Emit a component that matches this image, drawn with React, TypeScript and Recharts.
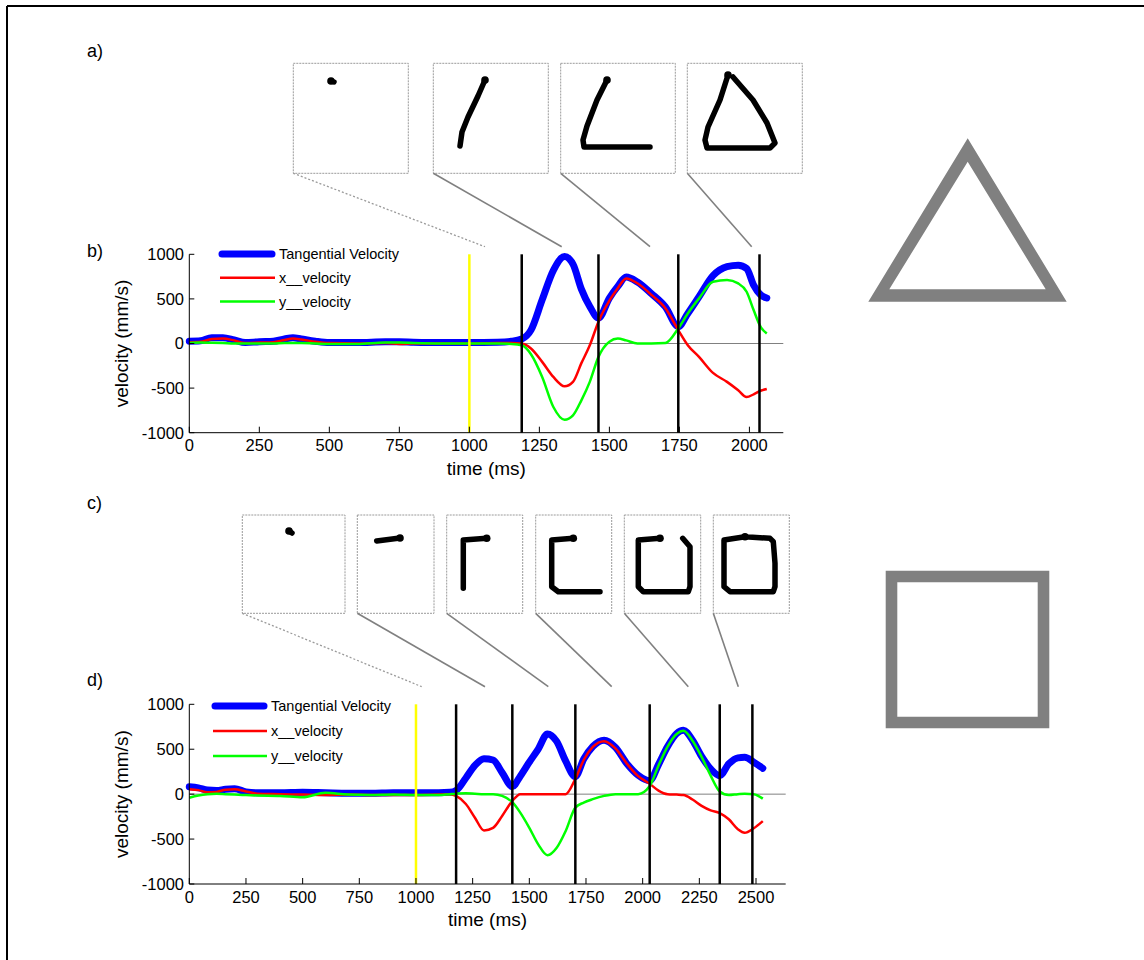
import { LineChart, Line, XAxis, YAxis, ReferenceLine, Legend } from 'recharts';

const FONT = '"Liberation Sans", Arial, Helvetica, sans-serif';

const SERIES_NAMES = ['Tangential Velocity', 'x__velocity', 'y__velocity'];
const SERIES_COLORS = ['#0000ff', '#ff0000', '#00ff00'];
const Y_TICKS = [-1000, -500, 0, 500, 1000];
const ONSET_MS = 1000;

// b) triangle trial
const B_TIME = [0, 40, 80, 120, 160, 200, 250, 300, 340, 370, 400, 450, 500, 600, 700, 750, 800, 900, 1000, 1100, 1150, 1187, 1220, 1260, 1300, 1340, 1370, 1400, 1430, 1461, 1500, 1530, 1560, 1600, 1650, 1700, 1746, 1780, 1820, 1870, 1920, 1960, 1990, 2015, 2040, 2062];
const B_TAN = [25, 30, 65, 65, 40, 10, 20, 25, 50, 65, 50, 25, 10, 10, 20, 20, 15, 10, 10, 15, 25, 50, 150, 490, 820, 975, 890, 610, 415, 285, 510, 640, 745, 690, 560, 410, 190, 337, 524, 760, 861, 878, 840, 655, 545, 510];
const B_XVEL = [15, 20, 50, 55, 35, 5, 10, 15, 40, 55, 45, 20, 5, 0, 5, -5, 0, 0, 0, 5, 5, 0, -56, -206, -375, -480, -430, -220, -20, 245, 480, 620, 730, 675, 545, 395, 150, -19, -150, -330, -430, -524, -600, -570, -530, -510];
const B_YVEL = [5, 10, 8, 5, 0, 0, 0, 0, 5, 5, 5, 0, -5, -5, 10, 10, 5, 0, 0, 0, -5, -20, -120, -375, -712, -854, -805, -637, -430, -150, 20, 55, 35, 0, 0, 5, 169, 337, 506, 693, 712, 674, 580, 375, 187, 112];
const B_SEGMENTS = [1187, 1461, 1746, 2036];
const B_X_TICKS = [0, 250, 500, 750, 1000, 1250, 1500, 1750, 2000];

// d) square trial
const D_TIME = [0, 40, 80, 120, 160, 200, 250, 300, 400, 500, 600, 700, 800, 900, 1000, 1100, 1150, 1177, 1220, 1260, 1300, 1340, 1380, 1425, 1460, 1500, 1540, 1580, 1620, 1660, 1703, 1740, 1780, 1830, 1880, 1930, 1980, 2031, 2070, 2110, 2150, 2180, 2220, 2260, 2300, 2340, 2380, 2420, 2450, 2490, 2530];
const D_TAN = [82, 70, 45, 40, 55, 60, 25, 15, 15, 20, 15, 10, 10, 15, 15, 15, 20, 40, 180, 320, 395, 380, 240, 85, 200, 356, 505, 670, 590, 370, 195, 390, 530, 600, 520, 340, 210, 150, 330, 530, 675, 712, 600, 420, 280, 206, 337, 404, 410, 356, 288];
const D_XVEL = [55, 45, 20, 25, 50, 55, 30, 5, 0, -5, -10, -5, -10, -10, -10, -5, 0, -20, -110, -262, -404, -375, -243, -75, 0, 0, 0, 0, 0, 0, 170, 380, 525, 590, 510, 340, 200, 115, 40, 0, -5, -10, -60, -130, -180, -210, -280, -390, -430, -380, -300];
const D_YVEL = [-40, -15, 0, 5, 0, -5, -10, -15, -20, -35, 15, -5, -10, -5, -10, -10, 0, 5, 10, 5, 0, 0, -20, -90, -206, -375, -562, -680, -600, -412, -150, -94, -56, -19, 0, 0, 0, 90, 320, 530, 670, 705, 595, 415, 206, 30, -10, 0, 5, 0, -50];
const D_SEGMENTS = [1177, 1425, 1703, 2031, 2340, 2484];
const D_X_TICKS = [0, 250, 500, 750, 1000, 1250, 1500, 1750, 2000, 2250, 2500];

// handwriting snapshots (pen traces inside the inset boxes)
const A_BOXES = [[293.3, 408.3], [433.3, 548.3], [560.7, 675.3], [687.3, 802.3]];
const A_TRACES = [
  [[331, 81], [334, 82]],
  [[485, 80], [478, 96], [468, 117], [462, 132], [460, 146]],
  [[607, 80], [597, 100], [587, 126], [583, 140], [584, 147], [650, 147]],
  [[728, 75], [720, 100], [708, 127], [705, 140], [707, 148], [770, 148], [775, 143], [767, 123], [753, 100], [733, 77]],
];
const A_LINKS = [[485, 246.7], [561.7, 246.7], [650, 246.7], [751.7, 246.7]];

const C_BOXES = [[242.3, 345], [357.3, 434], [446.7, 522.7], [535.7, 611.7], [624.3, 700.7], [713.3, 789.3]];
const C_TRACES = [
  [[289, 531], [292, 533]],
  [[400, 538], [376.7, 541]],
  [[486.7, 538.3], [463.3, 540], [463.3, 588.3]],
  [[573.3, 538.3], [551.7, 540], [551.7, 586.7], [558.3, 591.7], [600, 591.7]],
  [[660, 538.3], [638.3, 540], [638.3, 586.7], [643.3, 591.7], [688.3, 591.7], [690, 586.7], [690, 546.7], [682.7, 538.3]],
  [[745, 536.7], [724, 540], [724, 586.7], [730, 591.7], [773.3, 591.7], [775, 586.7], [775, 563.3], [773.3, 541.7], [770, 538.3], [745, 536.7]],
];
const C_LINKS = [[421.7, 686.7], [485, 686.7], [548.3, 686.7], [611.7, 686.7], [688.3, 686.7], [738.3, 686.7]];

function buildRows(time: number[], tan: number[], xv: number[], yv: number[]) {
  return time.map((t, i) => ({ t, tan: tan[i], xv: xv[i], yv: yv[i] }));
}

const B_ROWS = buildRows(B_TIME, B_TAN, B_XVEL, B_YVEL);
const D_ROWS = buildRows(D_TIME, D_TAN, D_XVEL, D_YVEL);

function makeLegend(rowGap: number, sampleLen: number) {
  return (props: any) => {
    const payload = props.payload || [];
    return (
      <svg width={230} height={90} style={{ overflow: 'visible', display: 'block' }}>
        {payload.map((entry: any, i: number) => {
          const y = 12 + i * rowGap;
          const thick = i === 0;
          return (
            <g key={entry.value}>
              <line
                x1={thick ? 8 : 6}
                x2={thick ? sampleLen + 3 : sampleLen + 6}
                y1={y}
                y2={y}
                stroke={entry.color}
                strokeWidth={thick ? 7 : 2.5}
                strokeLinecap={thick ? 'round' : 'butt'}
              />
              <text x={sampleLen + 10} y={y} dominantBaseline="central" fontSize={14.5} fontFamily={FONT} fill="#000">
                {entry.value}
              </text>
            </g>
          );
        })}
      </svg>
    );
  };
}

interface PanelProps {
  rows: { t: number; tan: number; xv: number; yv: number }[];
  segments: number[];
  xTicks: number[];
  xMax: number;
  top: number;
  height: number;
  margin: { top: number; right: number; bottom: number; left: number };
  legendPos: { left: number; top: number };
  rowGap: number;
  sampleLen: number;
}

function VelocityPanel({ rows, segments, xTicks, xMax, top, height, margin, legendPos, rowGap, sampleLen }: PanelProps) {
  const tickStyle = { fill: '#000', fontSize: 16.5, fontFamily: FONT };
  const labelStyle = { fill: '#000', fontSize: 19, fontFamily: FONT, textAnchor: 'middle' as const };
  return (
    <div style={{ position: 'absolute', left: 100, top, width: 700, height }}>
      <LineChart width={700} height={height} data={rows} margin={margin}>
        <XAxis
          dataKey="t"
          type="number"
          domain={[0, xMax]}
          ticks={xTicks}
          height={45}
          tick={tickStyle}
          tickSize={-6}
          tickMargin={13}
          axisLine={{ stroke: '#000' }}
          tickLine={{ stroke: '#000' }}
          label={{ value: 'time (ms)', position: 'insideBottom', offset: 3, style: labelStyle }}
        />
        <YAxis
          type="number"
          domain={[-1000, 1000]}
          ticks={Y_TICKS}
          width={89.3}
          tick={tickStyle}
          tickSize={-5}
          tickMargin={10.3}
          axisLine={{ stroke: '#000' }}
          tickLine={{ stroke: '#000' }}
          label={{ value: 'velocity (mm/s)', angle: -90, position: 'insideLeft', offset: 21, style: labelStyle }}
        />
        <ReferenceLine y={0} stroke="#808080" strokeWidth={1} />
        <Line
          type="monotone"
          dataKey="tan"
          name={SERIES_NAMES[0]}
          stroke={SERIES_COLORS[0]}
          strokeWidth={7}
          strokeLinecap="round"
          strokeLinejoin="round"
          dot={false}
          isAnimationActive={false}
        />
        <Line type="monotone" dataKey="xv" name={SERIES_NAMES[1]} stroke={SERIES_COLORS[1]} strokeWidth={2.5} dot={false} isAnimationActive={false} />
        <Line type="monotone" dataKey="yv" name={SERIES_NAMES[2]} stroke={SERIES_COLORS[2]} strokeWidth={2.5} dot={false} isAnimationActive={false} />
        <ReferenceLine x={ONSET_MS} stroke="#ffff00" strokeWidth={2.5} />
        {segments.map((s) => (
          <ReferenceLine key={s} x={s} stroke="#000" strokeWidth={2.5} />
        ))}
        <Legend
          layout="vertical"
          align="center"
          verticalAlign="middle"
          content={makeLegend(rowGap, sampleLen)}
          wrapperStyle={{ left: legendPos.left, top: legendPos.top, width: 230 }}
        />
      </LineChart>
    </div>
  );
}

function Snapshots({ boxes, top, bottom, traces, links }: { boxes: number[][]; top: number; bottom: number; traces: number[][][]; links: number[][] }) {
  return (
    <g>
      {boxes.map(([x0, x1], i) => (
        <g key={i}>
          <rect x={x0} y={top} width={x1 - x0} height={bottom - top} fill="#fff" stroke="#9a9a9a" strokeWidth={1} strokeDasharray="2 1" />
          <polyline
            points={traces[i].map((p) => p.join(',')).join(' ')}
            fill="none"
            stroke="#000"
            strokeWidth={5.5}
            strokeLinecap="round"
            strokeLinejoin="round"
          />
          <circle cx={traces[i][0][0]} cy={traces[i][0][1]} r={3.8} fill="#000" />
          <line
            x1={x0}
            y1={bottom}
            x2={links[i][0]}
            y2={links[i][1]}
            stroke={i === 0 ? '#9a9a9a' : '#808080'}
            strokeWidth={i === 0 ? 1.3 : 1.6}
            strokeDasharray={i === 0 ? '2 2' : undefined}
          />
        </g>
      ))}
    </g>
  );
}

export default function App() {
  return (
    <div style={{ position: 'absolute', left: 0, top: 0, width: 1144, height: 960, background: '#fff', fontFamily: FONT }}>
      <svg width={1144} height={960} style={{ position: 'absolute', left: 0, top: 0 }}>
        <line x1={7} y1={6} x2={1144} y2={6} stroke="#000" strokeWidth={2} />
        <line x1={7} y1={6} x2={7} y2={960} stroke="#000" strokeWidth={2} />
        <text x={87} y={57} fontSize={18} fill="#000">a)</text>
        <text x={87} y={257} fontSize={18} fill="#000">b)</text>
        <text x={87} y={509} fontSize={18} fill="#000">c)</text>
        <text x={87} y={686} fontSize={18} fill="#000">d)</text>
        <Snapshots boxes={A_BOXES} top={63.3} bottom={173.3} traces={A_TRACES} links={A_LINKS} />
        <Snapshots boxes={C_BOXES} top={515} bottom={613.3} traces={C_TRACES} links={C_LINKS} />
        <path
          d="M967.7,138.3 L868.3,301.7 L1066.7,301.7 Z M967.7,161.7 L889.3,289.3 L1045.7,289.3 Z"
          fill="#808080"
          fillRule="evenodd"
        />
        <path
          d="M885.7,570.7 H1049.3 V728.3 H885.7 Z M897.3,582.3 V716.7 H1037.7 V582.3 Z"
          fill="#808080"
          fillRule="evenodd"
        />
      </svg>
      <VelocityPanel
        rows={B_ROWS}
        segments={B_SEGMENTS}
        xTicks={B_X_TICKS}
        xMax={2121}
        top={230}
        height={260}
        margin={{ top: 24.3, right: 16.7, bottom: 12.3, left: 0 }}
        legendPos={{ left: 114, top: 12 }}
        rowGap={23.8}
        sampleLen={55}
      />
      <VelocityPanel
        rows={D_ROWS}
        segments={D_SEGMENTS}
        xTicks={D_X_TICKS}
        xMax={2631}
        top={680}
        height={270}
        margin={{ top: 24.3, right: 14.3, bottom: 21, left: 0 }}
        legendPos={{ left: 107, top: 14 }}
        rowGap={25}
        sampleLen={54}
      />
    </div>
  );
}
